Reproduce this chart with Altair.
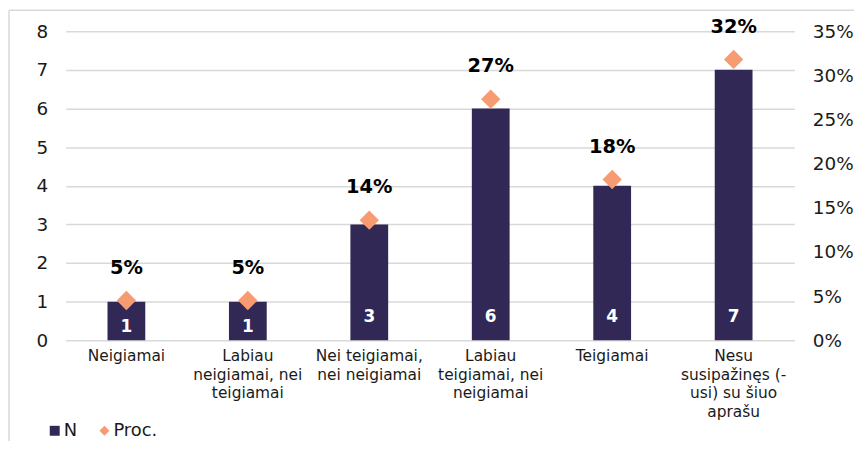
import altair as alt
import pandas as pd

categories = [
    "Neigiamai",
    "Labiau\nneigiamai, nei\nteigiamai",
    "Nei teigiamai,\nnei neigiamai",
    "Labiau\nteigiamai, nei\nneigiamai",
    "Teigiamai",
    "Nesu\nsusipažinęs (-\nusi) su šiuo\naprašu",
]
counts = [1, 1, 3, 6, 4, 7]
shares = [0.045, 0.045, 0.136, 0.273, 0.182, 0.318]
series_names = ["N", "Proc."]
left_ticks = [0, 1, 2, 3, 4, 5, 6, 7, 8]
right_ticks = [0, 0.05, 0.10, 0.15, 0.20, 0.25, 0.30, 0.35]

NAVY = "#312855"
ORANGE = "#F79B72"
FONT = "DejaVu Sans"
TXT = "#1a1a1a"

df = pd.DataFrame({"cat": categories, "N": counts, "Proc": shares})

x_enc = alt.X(
    "cat:N",
    sort=categories,
    title=None,
    scale=alt.Scale(paddingInner=0.69, paddingOuter=0.345),
    axis=alt.Axis(
        labelExpr="split(datum.label, '\\n')",
        labelAngle=0,
        ticks=False,
        domain=False,
        labelPadding=8,
        labelFontSize=15.5,
        labelLineHeight=19,
        labelLimit=300,
        labelBaseline="top",
        labelColor=TXT,
        labelFont=FONT,
        grid=False,
    ),
)

left_axis = alt.Axis(
    orient="left",
    values=left_ticks,
    grid=True,
    gridColor="#d9d9d9",
    gridWidth=1.5,
    ticks=False,
    domain=False,
    labelPadding=18,
    labelFontSize=18.5,
    labelColor=TXT,
    labelFont=FONT,
)
right_axis = alt.Axis(
    orient="right",
    values=right_ticks,
    format=".0%",
    grid=False,
    ticks=False,
    domain=False,
    labelPadding=18,
    labelFontSize=18.5,
    labelColor=TXT,
    labelFont=FONT,
)
left_scale = alt.Scale(domain=[0, 8], nice=False)
right_scale = alt.Scale(domain=[0, 0.35], nice=False)

base = alt.Chart(df)

bars = base.transform_calculate(series="'N'").mark_bar(size=38).encode(
    x=x_enc,
    y=alt.Y("N:Q", title=None, scale=left_scale, axis=left_axis),
    color=alt.Color(
        "series:N",
        scale=alt.Scale(domain=series_names, range=[NAVY, ORANGE]),
        legend=alt.Legend(
            title=None,
            orient="none",
            legendX=-20,
            legendY=393,
            direction="horizontal",
            labelFontSize=18,
            labelFont=FONT,
            labelColor=TXT,
            symbolSize=100,
            columnPadding=18,
            labelOffset=0,
        ),
    ),
)

bar_text = base.transform_calculate(
    lab="min(datum.N * 0.34, 0.6)"
).mark_text(
    color="white", fontWeight="bold", fontSize=17, font=FONT, baseline="middle"
).encode(
    x=x_enc,
    y=alt.Y("lab:Q", title=None, scale=left_scale, axis=left_axis),
    text=alt.Text("N:Q"),
)

points = base.transform_calculate(series="'Proc.'").mark_point(
    filled=True, size=380, opacity=1
).encode(
    x=x_enc,
    y=alt.Y("Proc:Q", title=None, scale=right_scale, axis=right_axis),
    color=alt.Color("series:N", scale=alt.Scale(domain=series_names, range=[NAVY, ORANGE])),
    shape=alt.Shape(
        "series:N",
        scale=alt.Scale(domain=series_names, range=["square", "diamond"]),
    ),
)

pct_text = base.mark_text(
    fontWeight="bold", fontSize=19.5, font=FONT, color="black", baseline="middle", dy=-33
).encode(
    x=x_enc,
    y=alt.Y("Proc:Q", title=None, scale=right_scale, axis=right_axis),
    text=alt.Text("Proc:Q", format=".0%"),
)

frame_df = pd.DataFrame({"k": [0]})
frame_left = alt.Chart(frame_df).mark_rule(color="#d9d9d9", strokeWidth=1.5).encode(
    x=alt.value(-57), y=alt.value(-21), y2=alt.value(420)
)
frame_top = alt.Chart(frame_df).mark_rule(color="#d9d9d9", strokeWidth=1.5).encode(
    x=alt.value(-57), x2=alt.value(800), y=alt.value(-21)
)

left = alt.layer(bars, bar_text)
right = alt.layer(points, pct_text)

chart = alt.layer(left, right, frame_left, frame_top).resolve_scale(
    y="independent"
).properties(
    width=733,
    height=311,
    background="white",
    padding={"left": 58, "top": 22, "right": 60, "bottom": 100},
    autosize=alt.AutoSizeParams(type="none"),
).configure_view(strokeWidth=0, stroke="transparent")

chart.save("out.html", embed_options={"renderer": "svg", "actions": False})
